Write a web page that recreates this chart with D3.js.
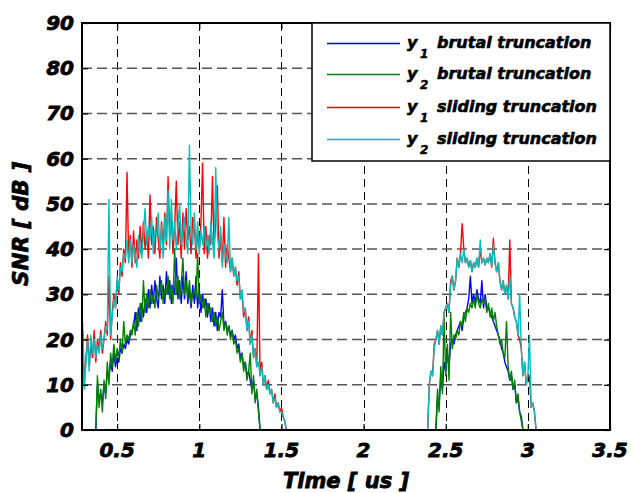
<!DOCTYPE html>
<html>
<head>
<meta charset="utf-8">
<script src="https://cdn.jsdelivr.net/npm/d3@7"></script>
<style>
  html, body { margin: 0; padding: 0; background: #fff; }
  svg { display: block; }
  text { font-family: "DejaVu Sans", sans-serif; font-weight: bold; font-style: italic; fill: #000; }
</style>
</head>
<body>
<svg id="chart" width="631" height="493"></svg>
<script>
// ---------------- data ----------------
const xTicks = [0.5, 1, 1.5, 2, 2.5, 3, 3.5];
const xTickLabels = ["0.5", "1", "1.5", "2", "2.5", "3", "3.5"];
const yTicks = [0, 10, 20, 30, 40, 50, 60, 70, 80, 90];
const yTickLabels = ["0", "10", "20", "30", "40", "50", "60", "70", "80", "90"];

const seriesNames = ["brutal truncation", "brutal truncation", "sliding truncation", "sliding truncation"];
const seriesSubs = ["1", "2", "1", "2"];

// time samples (us) of the first burst
const timesA = [0.29,0.30,0.31,0.32,0.33,0.34,0.35,0.36,0.37,0.38,0.39,0.40,0.41,0.42,0.43,0.44,0.45,0.46,0.47,0.48,0.49,
0.50,0.51,0.52,0.53,0.54,0.55,0.56,0.57,0.58,0.59,0.60,0.61,0.62,0.63,0.64,0.65,0.66,0.67,0.68,0.69,
0.70,0.71,0.72,0.73,0.74,0.75,0.76,0.77,0.78,0.79,0.80,0.81,0.82,0.83,0.84,0.85,0.86,0.87,0.88,0.89,
0.90,0.91,0.92,0.93,0.94,0.95,0.96,0.97,0.98,0.99,1.00,1.01,1.02,1.03,1.04,1.05,1.06,1.07,1.08,1.09,
1.10,1.11,1.12,1.13,1.14,1.15,1.16,1.17,1.18,1.19,1.20,1.21,1.22,1.23,1.24,1.25,1.26,1.27,1.28,1.29,
1.30,1.31,1.32,1.33,1.34,1.35,1.36,1.37,1.38,1.39,1.40,1.41,1.42,1.43,1.44,1.45,1.46,1.47,1.48,1.49,
1.50,1.51,1.52,1.53];
// time samples (us) of the second burst, then the end of the record
const timesB = [2.38,2.39,2.40,2.41,2.42,2.43,2.44,2.45,2.46,2.47,2.48,2.49,2.50,2.51,2.52,2.53,2.54,2.55,2.56,2.57,2.58,2.59,
2.60,2.61,2.62,2.63,2.64,2.65,2.66,2.67,2.68,2.69,2.70,2.71,2.72,2.73,2.74,2.75,2.76,2.77,2.78,2.79,
2.80,2.81,2.82,2.83,2.84,2.85,2.86,2.87,2.88,2.89,2.90,2.91,2.92,2.93,2.94,2.95,2.96,2.97,2.98,2.99,
3.00,3.01,3.02,3.03,3.04,3.05,3.06,3.44];

// y1 brutal truncation (blue)
const y1BrutalA = [0,0,0,0,0,0,0,0,0,
10,7,8,6,10,8,13,12,15,13,17,14,16,15,18,17,19,18,20,19,21,22,
23,26,22,27,24,28,25,29,26,31,27,32,28,33,29,27,34,29,32,28,35,30,33,28,32,30,38,29,33,28,
34,29,35,28,31,27,32,28,34,27,31,26,30,27,29,25,28,24,27,23,26,22,26,
25,31,23,24,22,23,21,22,20,21,18,19,16,17,14,15,12,13,11,9,11,7,8,5,0,
0,0,0,0,0,0,0,0,0,0,0,0,0,0,0,0];
const y1BrutalB = [0,0,0,0,0,0,0,7,6,12,9,15,13,17,14,19,20,19,21,22,23,24,
22,25,26,27,29,34,28,30,28,31,29,28,33,27,30,27,27,26,25,24,
23,22,21,20,18,17,15,14,13,11,12,9,10,6,7,4,3,0,0,0,
0,0,0,0,0,0,0,0];

// y2 brutal truncation (green)
const y2BrutalA = [0,0,0,0,0,0,0,0,0,
12,5,9,4,11,7,15,10,17,14,19,15,18,16,20,17,24,19,21,20,22,21,
24,21,26,23,28,24,33,26,30,27,31,28,30,27,32,29,31,33,28,31,30,34,29,32,28,40,30,34,29,32,
38,30,33,29,33,28,30,31,29,39,28,30,27,29,25,28,26,27,24,26,23,25,22,
24,26,22,24,21,23,20,22,19,20,17,18,15,17,13,15,11,13,17,8,12,6,9,4,0,
0,0,0,0,0,0,0,0,0,0,0,0,0,0,0,0];
const y2BrutalB = [0,0,0,0,0,0,0,9,4,14,8,25,12,19,11,26,18,21,20,22,21,24,
23,26,24,27,26,28,27,29,27,30,28,27,29,28,29,26,28,25,27,24,
26,23,21,19,20,17,16,24,14,11,13,9,11,6,8,4,2,0,0,0,
0,0,0,0,0,0,0,0];

// y1 sliding truncation (red)
const y1SlidingA = [22,10,16,21,14,19,16,22,15,20,18,22,17,20,24,21,34,20,26,30,27,33,30,37,34,40,37,57,
38,43,36,44,37,42,38,45,39,46,40,44,38,52,41,45,39,47,42,38,46,40,48,41,56,43,47,39,45,55,
41,46,38,48,40,49,42,45,39,47,46,38,44,40,46,59,39,45,38,43,41,56,40,46,54,38,43,37,47,36,41,
38,35,38,34,36,32,35,29,30,25,27,22,25,19,22,16,18,14,39,12,15,10,12,9,11,8,9,6,8,5,6,4,5,3,2,0];
const y1SlidingB = [0,0,10,13,12,19,20,22,19,23,21,26,27,28,26,33,34,31,33,38,36,39,
45.6,40,37,38,36,37.5,35,37,36,38,36,40,37,38,36.5,38,37,39,36,42.4,
37,35,37,33,31,33,30,32,29,42,28,27,25,24,21,20,18,12,15,10,
12,12,5,6,4,0,0,0];

// y2 sliding truncation (cyan)
const y2SlidingA = [24,9,15,20,13,21,17,20,16,19,17,21,18,20,23,22,51,21,25,29,27,34,31,36,35,39,38,42,
37,42,37,41,39,36,43,40,38,44,49,41,45,42,47,39,44,43,48,40,45,38,47,42,53,40,51,42,46,40,
45,50,41,44,47,42,39,63,44,41,48,40,46,39,44,41,45,40,43,39,46,42,38,58,43,40,45,36,41,39,37,
47,35,38,34,36,33,34,29,31,26,27,22,24,19,21,16,18,14,15,12,14,10,12,9,10,8,9,6,7,5,6,4,4,3,2,0];
const y2SlidingB = [0,0,10,13,12,18,20,22,19,23,21,26,27,28,26,32,34,31,33,38,36,39,
37,40,37,38,36,37.5,35,37,36,38,36,42,37,38,36.5,38,37,39,36,41,
37,35,37,33,31,33,30,32,29,34,28,27,25,24,21,30,18,12,15,10,
12,21,5,6,4,0,0,0];

const seriesColors = ["#0000ff", "#008000", "#ff0000", "#00bfbf"];

// ---------------- drawing ----------------
const svg = d3.select("#chart");
const W = 631, H = 493;
const plot = { left: 82, top: 23, right: 610, bottom: 430 };

const x = d3.scaleLinear().domain([0.286, 3.5]).range([plot.left, plot.right]);
const y = d3.scaleLinear().domain([0, 90]).range([plot.bottom, plot.top]);

const times = timesA.concat(timesB);
const seriesValues = [
  y1BrutalA.concat(y1BrutalB),
  y2BrutalA.concat(y2BrutalB),
  y1SlidingA.concat(y1SlidingB),
  y2SlidingA.concat(y2SlidingB)
];

svg.append("rect").attr("width", W).attr("height", H).attr("fill", "#fff");

svg.append("defs").append("clipPath").attr("id", "clip")
  .append("rect")
  .attr("x", plot.left).attr("y", plot.top - 1)
  .attr("width", plot.right - plot.left).attr("height", plot.bottom - plot.top + 1);

// grid
const grid = svg.append("g");
grid.selectAll("line.gx").data(xTicks.filter(d => d < 3.5)).join("line")
  .attr("x1", d => Math.round(x(d)) + 0.5).attr("x2", d => Math.round(x(d)) + 0.5)
  .attr("y1", plot.top).attr("y2", plot.bottom)
  .attr("stroke", "#000").attr("stroke-width", 1).attr("stroke-dasharray", "8,5");
grid.selectAll("line.gy").data(yTicks.filter(d => d > 0 && d < 90)).join("line")
  .attr("y1", d => y(d)).attr("y2", d => y(d))
  .attr("x1", plot.left).attr("x2", plot.right)
  .attr("stroke", "#555").attr("stroke-width", 1.5).attr("stroke-dasharray", "10,5");

// series lines
const line = d3.line().x((d, i) => x(times[i])).y(d => y(d));
const lines = svg.append("g").attr("clip-path", "url(#clip)");
seriesValues.forEach((vals, k) => {
  lines.append("path")
    .attr("d", line(vals))
    .attr("fill", "none")
    .attr("stroke", seriesColors[k])
    .attr("stroke-width", 1.4)
    .attr("stroke-linejoin", "round");
});

// axes (box with inward ticks)
const tickLen = 6;
const axG = svg.append("g");
axG.append("rect")
  .attr("x", plot.left).attr("y", plot.top)
  .attr("width", plot.right - plot.left).attr("height", plot.bottom - plot.top)
  .attr("fill", "none").attr("stroke", "#000").attr("stroke-width", 2);

const xAxisB = d3.axisBottom(x).tickValues(xTicks).tickSize(-tickLen).tickFormat("");
const xAxisT = d3.axisTop(x).tickValues(xTicks).tickSize(-tickLen).tickFormat("");
const yAxisL = d3.axisLeft(y).tickValues(yTicks).tickSize(-tickLen).tickFormat("");
const yAxisR = d3.axisRight(y).tickValues(yTicks).tickSize(-tickLen).tickFormat("");
[[xAxisB, `translate(0,${plot.bottom})`], [xAxisT, `translate(0,${plot.top})`],
 [yAxisL, `translate(${plot.left},0)`], [yAxisR, `translate(${plot.right},0)`]].forEach(([ax, tr]) => {
  const g = axG.append("g").attr("transform", tr).call(ax);
  g.select(".domain").remove();
  g.selectAll(".tick line").attr("stroke", "#000").attr("stroke-width", 1.2);
});

// tick labels
const labStyle = sel => sel.attr("font-size", 20).attr("stroke", "#000").attr("stroke-width", 0.8);
svg.append("g").selectAll("text").data(xTicks).join("text")
  .attr("x", d => x(d)).attr("y", 457)
  .attr("text-anchor", "middle")
  .text((d, i) => xTickLabels[i])
  .call(labStyle);
svg.append("g").selectAll("text").data(yTicks).join("text")
  .attr("x", 74).attr("y", d => y(d) + 7)
  .attr("text-anchor", "end")
  .text((d, i) => yTickLabels[i])
  .call(labStyle);

// axis titles
svg.append("text").attr("x", 346).attr("y", 488).attr("text-anchor", "middle")
  .text("Time [ us ]").call(labStyle).attr("font-size", 21);
svg.append("text").attr("transform", "translate(28,224) rotate(-90)").attr("text-anchor", "middle")
  .text("SNR [ dB ]").call(labStyle).attr("font-size", 21.5);

// legend
const leg = svg.append("g");
leg.append("rect").attr("x", 312).attr("y", plot.top).attr("width", plot.right - 312).attr("height", 138)
  .attr("fill", "#fff").attr("stroke", "#000").attr("stroke-width", 1.5);
const rowY = [43.5, 74.5, 107.5, 139.5];
seriesNames.forEach((name, k) => {
  const r = leg.append("g").attr("transform", `translate(0,${rowY[k]})`);
  r.append("line").attr("x1", 327).attr("x2", 400).attr("y1", 0).attr("y2", 0)
    .attr("stroke", seriesColors[k]).attr("stroke-width", 1.3);
  r.append("text").attr("x", 407).attr("y", 4).attr("font-size", 16)
    .attr("stroke", "#000").attr("stroke-width", 0.6).text("y");
  r.append("text").attr("x", 420).attr("y", 14).attr("font-size", 12)
    .attr("stroke", "#000").attr("stroke-width", 0.5).text(seriesSubs[k]);
  r.append("text").attr("x", 437).attr("y", 4).attr("font-size", 16)
    .attr("stroke", "#000").attr("stroke-width", 0.6).text(name);
});
</script>
</body>
</html>
